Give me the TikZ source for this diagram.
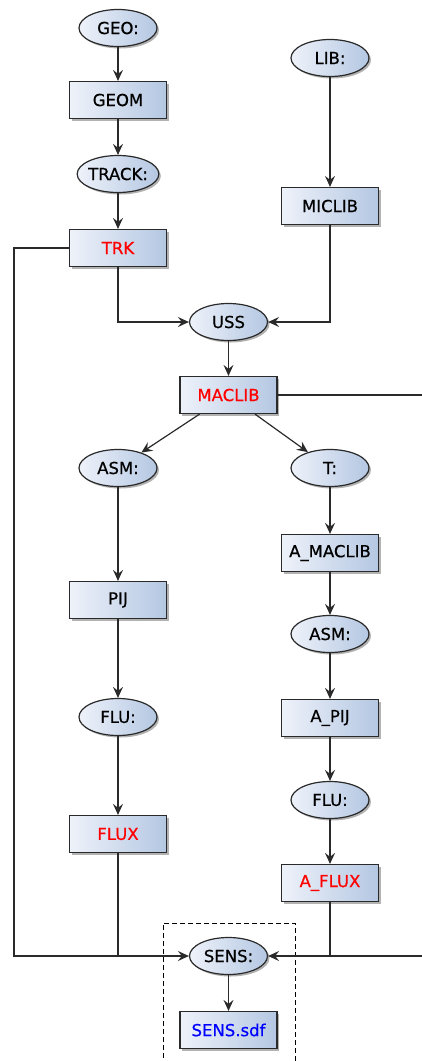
\documentclass[tikz,border=0pt]{standalone}
\usepackage{fontspec}
\setmainfont{DejaVu Sans}
\newfontfamily\lblfont[FakeBold=0.6]{DejaVu Sans}
\usetikzlibrary{shapes.geometric,arrows.meta,shadows}
\definecolor{boxl}{HTML}{EEF2FA}
\definecolor{boxr}{HTML}{B4C7E2}
\definecolor{edge}{HTML}{2A2A2A}
\tikzset{
  base/.style={draw=edge, line width=1.2pt, left color=boxl, right color=boxr,
    drop shadow={shadow xshift=2pt, shadow yshift=-2pt, opacity=0.3, fill=black},
    font=\lblfont\fontsize{16.5}{19}\selectfont, inner xsep=-1pt, inner ysep=0pt},
  proc/.style={base, rectangle, minimum width=97pt, minimum height=37pt},
  kw/.style={base, ellipse, minimum width=78pt, minimum height=37pt},
  link/.style={draw=edge, line width=1.2pt},
  arr/.style={link, -{Stealth[length=11pt, width=10pt, inset=4pt]}},
}
\begin{document}
\begin{tikzpicture}[x=1pt, y=-1pt]
\useasboundingbox (0,0) rectangle (422,1061);
% left chain
\node[kw]   (geo)   at (118,28)  {GEO:};
\node[proc] (geom)  at (118,100) {GEOM};
\node[kw]   (track) at (118,174) {TRACK:};
\node[proc] (trk)   at (118,248) {\textcolor{red}{TRK}};
% right chain
\node[kw]   (lib)    at (330,58)  {LIB:};
\node[proc] (miclib) at (330,206) {MICLIB};
% merge
\node[kw]   (uss)    at (228.5,322) {USS};
\node[proc] (maclib) at (228.5,395) {\textcolor{red}{MACLIB}};
% first branch
\node[kw]   (asm1) at (118,468) {ASM:};
\node[proc] (pij)  at (118,600) {PIJ};
\node[kw]   (flu1) at (118,717) {FLU:};
\node[proc] (flux) at (118,834) {\textcolor{red}{FLUX}};
% second branch
\node[kw]   (t)      at (330,468) {T:};
\node[proc] (amaclib) at (330,553) {A\_MACLIB};
\node[kw]   (asm2)   at (330,634) {ASM:};
\node[proc] (apij)   at (330,718) {A\_PIJ};
\node[kw]   (flu2)   at (330,800) {FLU:};
\node[proc] (aflux)  at (330,883) {\textcolor{red}{A\_FLUX}};
% sensitivity
\node[draw=black, dash pattern=on 5pt off 3pt, line width=1pt, minimum width=132pt, minimum height=150pt]
  (grp) at (229,998) {};
\node[kw]   (sens) at (228.5,956)  {SENS:};
\node[proc] (sdf)  at (228.5,1030) {\textcolor{blue}{SENS.sdf}};
\coordinate (lft) at (14,956);
\coordinate (rgt) at (422,956);

\draw[arr] (geo) -- (geom);
\draw[arr] (geom) -- (track);
\draw[arr] (track) -- (trk);
\draw[arr] (lib) -- (miclib);
\draw[arr] (trk.south) |- (uss.west);
\draw[arr] (miclib.south) |- (uss.east);
\draw[arr] (uss) -- (maclib);
\draw[arr] (maclib) -- (asm1);
\draw[arr] (maclib) -- (t);
\draw[arr] (asm1) -- (pij);
\draw[arr] (pij) -- (flu1);
\draw[arr] (flu1) -- (flux);
\draw[arr] (t) -- (amaclib);
\draw[arr] (amaclib) -- (asm2);
\draw[arr] (asm2) -- (apij);
\draw[arr] (apij) -- (flu2);
\draw[arr] (flu2) -- (aflux);
\draw[arr] (trk.west) -| (lft) -- (sens.west);
\draw[link] (flux.south) -- (flux.south |- lft);
\draw[link] (maclib.east) -- (maclib.east -| rgt);
\draw[arr] (rgt) -- (sens.east);
\draw[link] (aflux.south) -- (aflux.south |- rgt);
\draw[arr] (sens) -- (sdf);
\end{tikzpicture}
\end{document}
